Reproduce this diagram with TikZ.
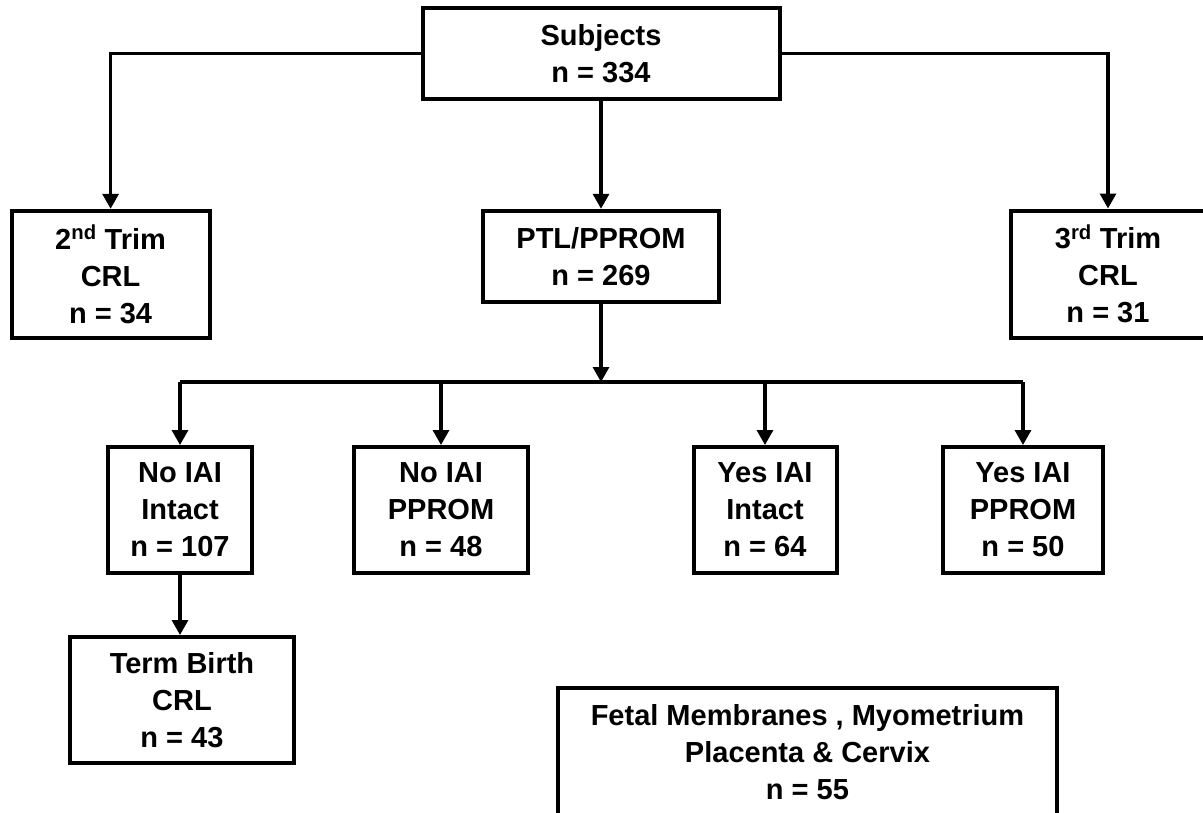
\documentclass[tikz,border=0pt]{standalone}
\usepackage{fontspec}
\setmainfont{Liberation Sans}
\usetikzlibrary{arrows.meta}
\begin{document}
\begin{tikzpicture}[x=1pt,y=-1pt,
  box/.style={draw=black, line width=4pt, rectangle, inner sep=0pt, align=center,
    font=\fontsize{29}{37}\selectfont\bfseries},
  conn/.style={line width=3.2pt},
  arr/.style={line width=3.2pt, -{Triangle[width=16pt,length=15pt]}}]
\useasboundingbox (0,0) rectangle (1203,812);
\node[box, minimum width=357pt, minimum height=91pt] (sub) at (601,53.5) {Subjects\\n = 334};
\node[box, minimum width=198pt, minimum height=127pt] (t2) at (110.6,274.3) {2\textsuperscript{nd} Trim\\CRL\\n = 34};
\node[box, minimum width=236pt, minimum height=91pt] (ptl) at (601,256.3) {PTL/PPROM\\n = 269};
\node[box, minimum width=194pt, minimum height=127pt] (t3) at (1108,274) {3\textsuperscript{rd} Trim\\CRL\\n = 31};
\node[box, minimum width=144pt, minimum height=126pt] (a1) at (180,510) {No IAI\\Intact\\n = 107};
\node[box, minimum width=174pt, minimum height=126pt] (a2) at (441,510) {No IAI\\PPROM\\n = 48};
\node[box, minimum width=143pt, minimum height=126pt] (a3) at (765,510) {Yes IAI\\Intact\\n = 64};
\node[box, minimum width=160pt, minimum height=126pt] (a4) at (1023,510) {Yes IAI\\PPROM\\n = 50};
\node[box, minimum width=224pt, minimum height=126pt] (tb) at (182,700) {Term Birth\\CRL\\n = 43};
\node[box, minimum width=499pt, minimum height=128pt] (fm) at (807.5,752) {Fetal Membranes , Myometrium\\Placenta \& Cervix\\n = 55};
\coordinate (bus) at (601,382);
\draw[arr] (sub.west) -| (t2.north);
\draw[arr] (sub.east) -| (t3.north);
\draw[arr] (sub.south) -- (ptl.north);
\draw[arr] (ptl.south) -- (bus);
\draw[conn] (a1.north |- bus) -- (a4.north |- bus);
\draw[arr] (a1.north |- bus) -- (a1.north);
\draw[arr] (a2.north |- bus) -- (a2.north);
\draw[arr] (a3.north |- bus) -- (a3.north);
\draw[arr] (a4.north |- bus) -- (a4.north);
\draw[arr] (a1.south) -- (a1.south |- tb.north);
\end{tikzpicture}
\end{document}
